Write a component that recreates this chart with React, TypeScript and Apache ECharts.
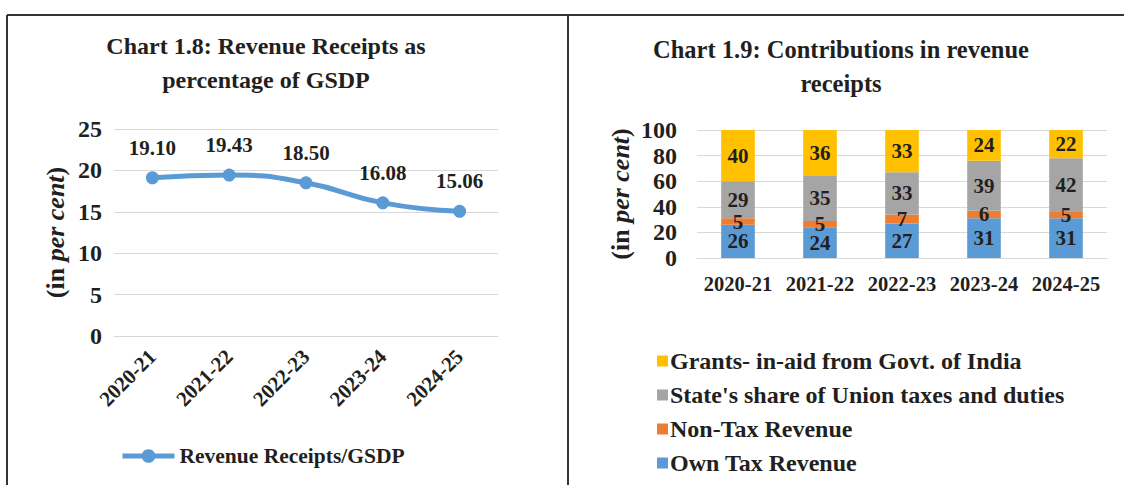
import React, { useEffect, useRef } from "react";
import * as echarts from "echarts";

const years = ["2020-21", "2021-22", "2022-23", "2023-24", "2024-25"];
const rrGsdp = [19.1, 19.43, 18.5, 16.08, 15.06];
const leftTicks = [0, 5, 10, 15, 20, 25];

const ownTax = [26, 24, 27, 31, 31];
const nonTax = [5, 5, 7, 6, 5];
const unionShare = [29, 35, 33, 39, 42];
const grants = [40, 36, 33, 24, 22];

const FONT = '"Liberation Serif", "Times New Roman", serif';
const TXT = "#231f20";

export default function App() {
  const ref = useRef<HTMLDivElement>(null);
  useEffect(() => {
    if (!ref.current) return;
    const chart = echarts.init(ref.current, undefined, { renderer: "svg" });
    const yName = {
      a: { fontFamily: FONT, fontWeight: "bold", fontSize: 26, color: TXT },
      b: { fontFamily: FONT, fontWeight: "bold", fontStyle: "italic", fontSize: 26, color: TXT },
    };
    const barLabel = {
      show: true,
      position: "inside",
      color: TXT,
      fontFamily: FONT,
      fontWeight: "bold",
      fontSize: 21,
      lineHeight: 14,
    };
    const mkBar = (name: string, data: number[], color: string) => ({
      type: "bar",
      name,
      stack: "rev",
      xAxisIndex: 1,
      yAxisIndex: 1,
      data,
      barWidth: "41%",
      itemStyle: { color },
      label: barLabel,
    });
    chart.setOption({
      animation: false,
      textStyle: { fontFamily: FONT },
      title: [
        {
          text: "Chart 1.8: Revenue Receipts as\npercentage of GSDP",
          left: 261,
          top: 24,
          textAlign: "center",
          textStyle: { fontFamily: FONT, fontWeight: "bold", fontSize: 24, lineHeight: 34, color: TXT },
        },
        {
          text: "Chart 1.9: Contributions in revenue\nreceipts",
          left: 836,
          top: 27,
          textAlign: "center",
          textStyle: { fontFamily: FONT, fontWeight: "bold", fontSize: 24.5, lineHeight: 34, color: TXT },
        },
      ],
      legend: [
        {
          data: ["Revenue Receipts/GSDP"],
          left: 115,
          top: 440,
          itemWidth: 52,
          itemHeight: 17,
          itemGap: 4,
          selectedMode: false,
          lineStyle: { width: 5 },
          textStyle: { fontFamily: FONT, fontWeight: "bold", fontSize: 21.5, color: TXT },
        },
        {
          data: [
            "Grants- in-aid from Govt. of India",
            "State's share of Union taxes and duties",
            "Non-Tax Revenue",
            "Own Tax Revenue",
          ],
          orient: "vertical",
          left: 652,
          top: 344,
          icon: "rect",
          itemWidth: 11,
          itemHeight: 11,
          itemGap: 10,
          selectedMode: false,
          textStyle: { fontFamily: FONT, fontWeight: "bold", fontSize: 24, lineHeight: 24, color: TXT, padding: [0, 0, 0, -3] },
        },
      ],
      grid: [
        { left: 114, top: 129, width: 384, height: 207 },
        { left: 697, top: 130, width: 410, height: 128 },
      ],
      xAxis: [
        {
          type: "category",
          gridIndex: 0,
          data: years,
          axisLine: { show: true, lineStyle: { color: "#d9d9d9" } },
          axisTick: { show: false },
          axisLabel: { rotate: 45, margin: 17, interval: 0, color: TXT, fontFamily: FONT, fontWeight: "bold", fontSize: 21 },
        },
        {
          type: "category",
          gridIndex: 1,
          data: years,
          axisLine: { show: true, lineStyle: { color: "#d9d9d9" } },
          axisTick: { show: false },
          axisLabel: { margin: 15, interval: 0, hideOverlap: false, color: TXT, fontFamily: FONT, fontWeight: "bold", fontSize: 20.5 },
        },
      ],
      yAxis: [
        {
          type: "value",
          gridIndex: 0,
          min: leftTicks[0],
          max: leftTicks[leftTicks.length - 1],
          interval: 5,
          name: "{a|(in }{b|per cent}{a|)}",
          nameLocation: "middle",
          nameGap: 46,
          nameRotate: 90,
          nameTextStyle: { rich: yName },
          axisLine: { show: false },
          axisTick: { show: false },
          splitLine: { lineStyle: { color: "#d9d9d9", width: 1 } },
          axisLabel: { margin: 12, color: TXT, fontFamily: FONT, fontWeight: "bold", fontSize: 24 },
        },
        {
          type: "value",
          gridIndex: 1,
          min: 0,
          max: 100,
          interval: 20,
          name: "{a|(in }{b|per cent}{a|)}",
          nameLocation: "middle",
          nameGap: 64,
          nameRotate: 90,
          nameTextStyle: { rich: yName },
          axisLine: { show: false },
          axisTick: { show: false },
          splitLine: { lineStyle: { color: "#d9d9d9", width: 1 } },
          axisLabel: { margin: 20, color: TXT, fontFamily: FONT, fontWeight: "bold", fontSize: 24 },
        },
      ],
      series: [
        {
          type: "line",
          name: "Revenue Receipts/GSDP",
          xAxisIndex: 0,
          yAxisIndex: 0,
          data: rrGsdp,
          smooth: true,
          symbol: "circle",
          symbolSize: 13,
          lineStyle: { width: 5, color: "#5b9bd5" },
          itemStyle: { color: "#5b9bd5" },
          label: {
            show: true,
            position: "top",
            distance: 13,
            formatter: (p: any) => Number(p.value).toFixed(2),
            color: TXT,
            fontFamily: FONT,
            fontWeight: "bold",
            fontSize: 21,
          },
        },
        mkBar("Own Tax Revenue", ownTax, "#5b9bd5"),
        mkBar("Non-Tax Revenue", nonTax, "#ed7d31"),
        mkBar("State's share of Union taxes and duties", unionShare, "#a5a5a5"),
        mkBar("Grants- in-aid from Govt. of India", grants, "#ffc000"),
      ],
      graphic: [
        { type: "line", shape: { x1: 7, y1: 15, x2: 1124, y2: 15 }, style: { stroke: "#333", lineWidth: 2 } },
        { type: "line", shape: { x1: 7, y1: 15, x2: 7, y2: 485 }, style: { stroke: "#333", lineWidth: 2 } },
        { type: "line", shape: { x1: 568, y1: 15, x2: 568, y2: 485 }, style: { stroke: "#333", lineWidth: 2 } },
      ],
    });
    return () => chart.dispose();
  }, []);
  return (
    <div
      ref={ref}
      style={{ position: "fixed", left: 0, top: 0, width: 1124, height: 485, background: "#fff" }}
    />
  );
}
